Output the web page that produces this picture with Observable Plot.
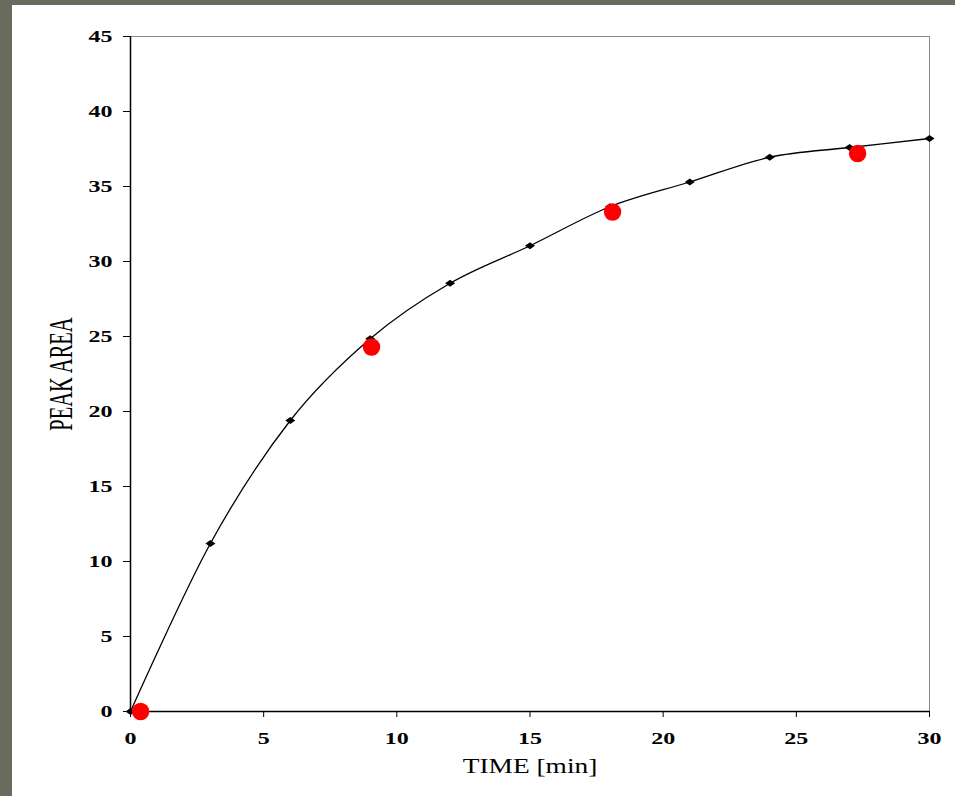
<!DOCTYPE html>
<html>
<head>
<meta charset="utf-8">
<script src="https://cdn.jsdelivr.net/npm/d3@7"></script>
<script src="https://cdn.jsdelivr.net/npm/@observablehq/plot@0.6"></script>
<style>
  html, body { margin: 0; padding: 0; }
  body { width: 955px; height: 796px; background: #6b6b5d; position: relative; overflow: hidden; }
  #panel { position: absolute; left: 12px; top: 5px; width: 943px; height: 791px; background: #ffffff; }
</style>
</head>
<body>
<div id="panel"></div>
<script>
// Fitted series (black diamonds with smoothed line)
const times = [0, 3, 6, 9, 12, 15, 18, 21, 24, 27, 30];
const peakArea = [0, 11.2, 19.4, 24.85, 28.55, 31.05, 33.65, 35.3, 36.95, 37.6, 38.2];
// Measured points (red circles)
const measuredTimes = [0.38, 9.05, 18.1, 27.3];
const measuredArea = [0, 24.3, 33.3, 37.2];
// Axis ticks
const xTicks = [0, 5, 10, 15, 20, 25, 30];
const yTicks = [0, 5, 10, 15, 20, 25, 30, 35, 40, 45];
const xLabel = "TIME [min]";
const yLabel = "PEAK AREA";

const fitted = times.map((t, i) => ({t, a: peakArea[i]}));
const measured = measuredTimes.map((t, i) => ({t, a: measuredArea[i]}));
const serif = "'Liberation Serif', 'Times New Roman', serif";

// Excel-style diamond marker (wider than tall)
const wideDiamond = {
  draw(context, size) {
    const r = Math.sqrt(size / Math.PI);
    const w = 1.25 * r, h = 0.9 * r;
    context.moveTo(-w, 0);
    context.lineTo(0, -h);
    context.lineTo(w, 0);
    context.lineTo(0, h);
    context.closePath();
  }
};

const chart = Plot.plot({
  width: 943,
  height: 791,
  marginLeft: 118,
  marginTop: 31,
  marginRight: 26,
  marginBottom: 85,
  style: {background: "transparent", fontFamily: serif, color: "#000"},
  x: {domain: [0, 30]},
  y: {domain: [0, 45]},
  marks: [
    Plot.ruleY([45], {stroke: "#8a8a8a", strokeWidth: 1}),
    Plot.ruleX([30], {stroke: "#8a8a8a", strokeWidth: 1}),
    Plot.axisX({ticks: xTicks, tickSize: 6, tickPadding: 15, label: null,
      fontSize: 16, fontWeight: "bold", fontFamily: serif, tickFormat: d => String(d)}),
    Plot.axisY({ticks: yTicks, tickSize: 7, tickPadding: 11, label: null,
      fontSize: 16, fontWeight: "bold", fontFamily: serif, tickFormat: d => String(d)}),
    Plot.ruleX([0], {stroke: "#000", strokeWidth: 1.5}),
    Plot.ruleY([0], {stroke: "#000", strokeWidth: 1.5}),
    Plot.line(fitted, {x: "t", y: "a", curve: "cardinal", tension: 0, stroke: "#000", strokeWidth: 1.3}),
    Plot.dot(fitted, {x: "t", y: "a", symbol: wideDiamond, r: 4, fill: "#000", stroke: null}),
    Plot.dot(measured, {x: "t", y: "a", r: 8.7, fill: "#ff0000", stroke: null}),
    Plot.text([xLabel], {frameAnchor: "bottom", dy: 61, fontSize: 20, fontFamily: serif, fill: "#000"}),
    Plot.text([yLabel], {frameAnchor: "left", textAnchor: "middle", dx: -69, rotate: -90, fontSize: 20.5, fontFamily: serif, fill: "#000"})
  ]
});

document.getElementById("panel").appendChild(chart);

// The original is horizontally stretched: widen tick labels and axis titles
const isNum = v => v !== null && /^-?[\d.]+$/.test(v.trim());
function stretch(el, extra) {
  let t = el.getAttribute("transform") || "";
  const x = el.getAttribute("x"), y = el.getAttribute("y");
  if ((x === null || isNum(x)) && (y === null || isNum(y)) && (x !== null || y !== null)) {
    t += ` translate(${x || 0},${y || 0})`;
    el.removeAttribute("x");
    el.removeAttribute("y");
  }
  el.setAttribute("transform", (t + " " + extra).trim());
}
chart.querySelectorAll('g[aria-label="y-axis tick label"] text, g[aria-label="x-axis tick label"] text')
  .forEach(el => stretch(el, "scale(1.5,1)"));
chart.querySelectorAll("text").forEach(el => {
  if (el.textContent === xLabel) stretch(el, "scale(1.37,1)");
  else if (el.textContent === yLabel) stretch(el, "scale(1,1.6)");
});
</script>
</body>
</html>
